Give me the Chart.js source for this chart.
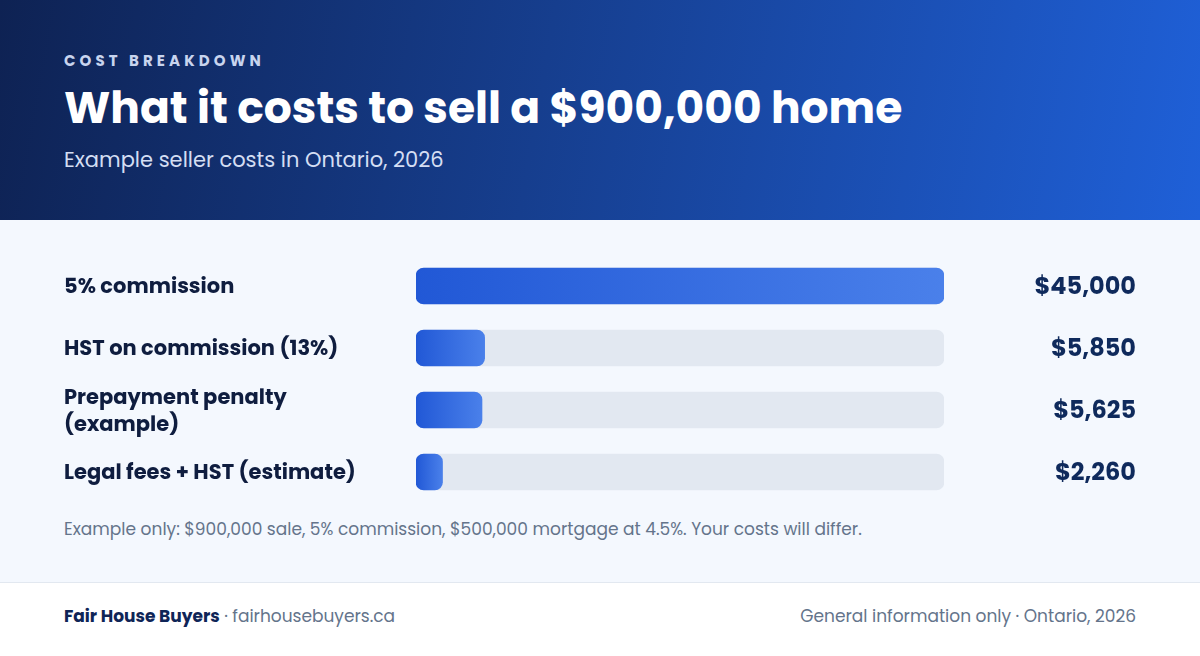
<!DOCTYPE html>
<html lang="en">
<head>
  <meta charset="UTF-8" />
  <title>What it costs to sell a $900,000 home</title>
  <script src="https://cdn.jsdelivr.net/npm/chart.js"></script>
  <style>
    body {
      margin: 0;
      width: 1200px;
      height: 656px;
      position: relative;
      overflow: hidden;
      background: #f4f8fe;
      font-family: "Poppins", "Inter", sans-serif;
    }

    #header {
      position: absolute;
      left: 0;
      top: 0;
      width: 1200px;
      height: 220px;
      background: linear-gradient(100deg, #0e2253 0%, #163e8e 45%, #1f60d8 100%);
    }

    #kicker {
      position: absolute;
      left: 64px;
      top: 52px;
      font-size: 15px;
      line-height: 18px;
      font-weight: 700;
      letter-spacing: 4.1px;
      color: #c8d4ee;
    }

    #title {
      position: absolute;
      left: 64px;
      top: 80px;
      font-size: 44px;
      line-height: 56px;
      font-weight: 700;
      color: #ffffff;
    }

    #subtitle {
      position: absolute;
      left: 64px;
      top: 146px;
      font-size: 21px;
      line-height: 28px;
      color: #d4def3;
    }

    #chart-box {
      position: absolute;
      left: 64px;
      top: 255px;
      width: 1072px;
      height: 248px;
    }

    #note {
      position: absolute;
      left: 64px;
      top: 517px;
      font-size: 17px;
      line-height: 24px;
      color: #64748b;
    }

    #footer {
      position: absolute;
      left: 0;
      top: 582px;
      width: 1200px;
      height: 74px;
      background: #ffffff;
      border-top: 1px solid #e2e8f0;
    }

    #footer .left, #footer .right {
      position: absolute;
      top: 21px;
      font-size: 17px;
      line-height: 24px;
      color: #64748b;
    }

    #footer .left { left: 64px; }
    #footer .right { right: 64px; }
    #footer b { color: #0f2557; font-weight: 700; }
  </style>
</head>
<body>
  <div id="header">
    <div id="kicker">COST BREAKDOWN</div>
    <div id="title">What it costs to sell a $900,000 home</div>
    <div id="subtitle">Example seller costs in Ontario, 2026</div>
  </div>

  <div id="chart-box">
    <canvas id="costChart"></canvas>
  </div>

  <div id="note">Example only: $900,000 sale, 5% commission, $500,000 mortgage at 4.5%. Your costs will differ.</div>

  <div id="footer">
    <div class="left"><b>Fair House Buyers</b> · fairhousebuyers.ca</div>
    <div class="right">General information only · Ontario, 2026</div>
  </div>

  <script>
    const categories = [
      '5% commission',
      'HST on commission (13%)',
      ['Prepayment penalty', '(example)'],
      'Legal fees + HST (estimate)'
    ];
    const costs = [45000, 5850, 5625, 2260];
    const scaleMax = 45000;

    const costLabels = costs.map(v => '$' + v.toLocaleString('en-US'));
    const track = costs.map(() => scaleMax);

    const fontFamily = '"Poppins", "Inter", sans-serif';

    function barFill(ctx) {
      const chart = ctx.chart;
      const { chartArea, scales } = chart;
      if (!chartArea) return '#2f6ae0';
      const x0 = scales.x.getPixelForValue(0);
      const x1 = scales.x.getPixelForValue(ctx.raw);
      const g = chart.ctx.createLinearGradient(x0, 0, x1, 0);
      g.addColorStop(0, '#2158d6');
      g.addColorStop(1, '#4a80ea');
      return g;
    }

    function fixWidth(w) {
      return scale => {
        scale.width = w;
        scale.paddingTop = 0;
        scale.paddingBottom = 0;
      };
    }

    new Chart(document.getElementById('costChart'), {
      type: 'bar',
      data: {
        labels: categories,
        datasets: [
          {
            data: costs,
            backgroundColor: barFill,
            borderRadius: 8,
            borderSkipped: false,
            barThickness: 36,
            grouped: false
          },
          {
            data: track,
            backgroundColor: '#e2e8f1',
            borderRadius: 8,
            borderSkipped: false,
            barThickness: 36,
            grouped: false
          }
        ]
      },
      options: {
        indexAxis: 'y',
        responsive: true,
        maintainAspectRatio: false,
        animation: false,
        layout: { padding: 0 },
        plugins: {
          legend: { display: false },
          tooltip: { enabled: false }
        },
        scales: {
          x: { min: 0, max: scaleMax, display: false },
          y: {
            position: 'left',
            offset: true,
            grid: { display: false },
            border: { display: false },
            ticks: {
              crossAlign: 'far',
              padding: 0,
              labelOffset: 2,
              color: '#0f1d3f',
              font: { family: fontFamily, size: 21, weight: '700', lineHeight: 1.3 }
            },
            afterFit: fixWidth(352)
          },
          y2: {
            type: 'category',
            labels: costLabels,
            position: 'right',
            offset: true,
            grid: { display: false },
            border: { display: false },
            ticks: {
              crossAlign: 'far',
              padding: 0,
              labelOffset: 2,
              color: '#0f2a5c',
              font: { family: fontFamily, size: 24, weight: '700' }
            },
            afterFit: fixWidth(192)
          }
        }
      }
    });
  </script>
</body>
</html>
